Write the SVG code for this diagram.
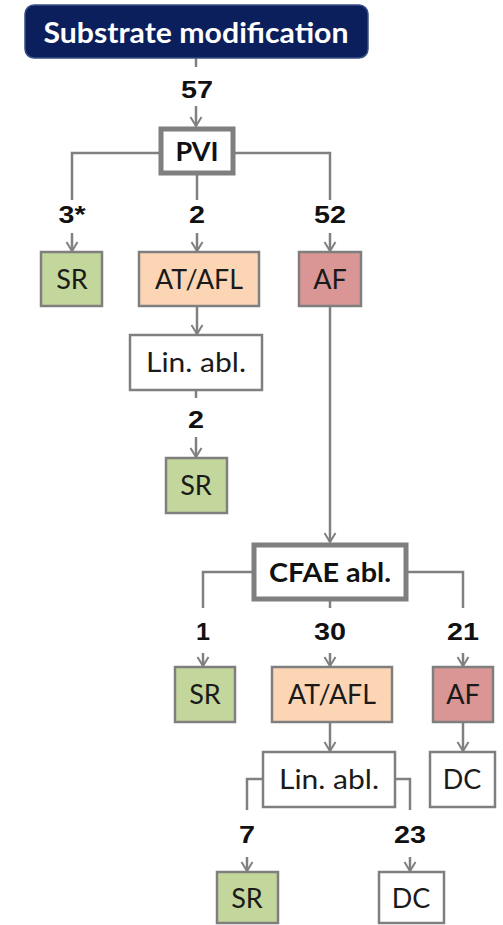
<svg xmlns="http://www.w3.org/2000/svg" width="503" height="925" viewBox="0 0 503 925">
<style>
.box{stroke:#7f7f7f;stroke-width:2.5}
.thick{fill:#fff;stroke:#7f7f7f;stroke-width:5}
.sr{fill:#c3d69b}
.at{fill:#fcd5b4}
.af{fill:#d99694}
.wh{fill:#fff}
.t{font-family:Lato,"Open Sans",sans-serif;font-size:27px;fill:#1a1a1a;text-anchor:middle}
.tb{font-family:Lato,"Open Sans",sans-serif;font-size:27px;font-weight:bold;fill:#111;text-anchor:middle}
.n{font-family:"Liberation Sans",Arial,sans-serif;font-size:23px;font-weight:bold;fill:#111;text-anchor:middle}
.c{fill:none;stroke:#808080;stroke-width:2.5}
</style>
<defs>
<marker id="ah" viewBox="0 0 14 14" refX="12" refY="7" markerWidth="14" markerHeight="14" markerUnits="userSpaceOnUse" orient="auto">
<path d="M3,1.5 L12,7 L3,12.5" fill="none" stroke="#808080" stroke-width="2"/>
</marker>
</defs>
<g id="connectors">
<line class="c" x1="196" y1="58" x2="196" y2="67"/>
<line class="c" x1="196" y1="106" x2="196" y2="126" marker-end="url(#ah)"/>
<path class="c" d="M160,153 H72 V200"/>
<path class="c" d="M234,153 H330 V200"/>
<line class="c" x1="197" y1="174" x2="197" y2="200"/>
<line class="c" x1="72" y1="233" x2="72" y2="251" marker-end="url(#ah)"/>
<line class="c" x1="197" y1="233" x2="197" y2="251" marker-end="url(#ah)"/>
<line class="c" x1="330" y1="233" x2="330" y2="251" marker-end="url(#ah)"/>
<line class="c" x1="197" y1="306" x2="197" y2="334" marker-end="url(#ah)"/>
<line class="c" x1="196" y1="390" x2="196" y2="398"/>
<line class="c" x1="196" y1="437" x2="196" y2="457" marker-end="url(#ah)"/>
<line class="c" x1="330" y1="306" x2="330" y2="542" marker-end="url(#ah)"/>
<path class="c" d="M253,572 H203 V608"/>
<path class="c" d="M407,572 H463 V608"/>
<line class="c" x1="330" y1="600" x2="330" y2="608"/>
<line class="c" x1="203" y1="653" x2="203" y2="666" marker-end="url(#ah)"/>
<line class="c" x1="330" y1="653" x2="330" y2="666" marker-end="url(#ah)"/>
<line class="c" x1="463" y1="653" x2="463" y2="666" marker-end="url(#ah)"/>
<line class="c" x1="330" y1="722" x2="330" y2="751" marker-end="url(#ah)"/>
<line class="c" x1="463" y1="722" x2="463" y2="751" marker-end="url(#ah)"/>
<path class="c" d="M263,779 H247 V810"/>
<path class="c" d="M395,779 H410 V810"/>
<line class="c" x1="247" y1="857" x2="247" y2="871" marker-end="url(#ah)"/>
<line class="c" x1="410" y1="857" x2="410" y2="871" marker-end="url(#ah)"/>
</g>
<g id="labels">
<text class="n" x="197" y="98" textLength="32" lengthAdjust="spacingAndGlyphs">57</text>
<text class="n" x="72" y="223" textLength="27" lengthAdjust="spacingAndGlyphs">3*</text>
<text class="n" x="197" y="223" textLength="16" lengthAdjust="spacingAndGlyphs">2</text>
<text class="n" x="330" y="223" textLength="32" lengthAdjust="spacingAndGlyphs">52</text>
<text class="n" x="196" y="428" textLength="16" lengthAdjust="spacingAndGlyphs">2</text>
<text class="n" x="203" y="640" textLength="14" lengthAdjust="spacingAndGlyphs">1</text>
<text class="n" x="330" y="640" textLength="32" lengthAdjust="spacingAndGlyphs">30</text>
<text class="n" x="463" y="640" textLength="32" lengthAdjust="spacingAndGlyphs">21</text>
<text class="n" x="247" y="843" textLength="16" lengthAdjust="spacingAndGlyphs">7</text>
<text class="n" x="410" y="843" textLength="32" lengthAdjust="spacingAndGlyphs">23</text>
</g>
<g id="substrate">
<rect x="25" y="5" width="343" height="53" rx="9" fill="#0b1f5c" stroke="#3a4f86" stroke-width="1.5"/>
<text x="196" y="43" font-family="Lato,'Open Sans',sans-serif" font-size="28" font-weight="bold" fill="#fff" text-anchor="middle" textLength="305" lengthAdjust="spacingAndGlyphs">Substrate modification</text>
</g>
<g id="pvi"><rect class="thick" x="161" y="129" width="72" height="44"/><text class="tb" x="197" y="161">PVI</text></g>
<g id="sr1"><rect class="box sr" x="41" y="252" width="61" height="54"/><text class="t" x="72" y="289">SR</text></g>
<g id="atafl1"><rect class="box at" x="139" y="252" width="120" height="54"/><text class="t" x="199" y="289" textLength="88" lengthAdjust="spacingAndGlyphs">AT/AFL</text></g>
<g id="af1"><rect class="box af" x="299" y="252" width="62" height="54"/><text class="t" x="330" y="289">AF</text></g>
<g id="linabl1"><rect class="box wh" x="130" y="335" width="132" height="55"/><text class="t" x="196" y="372" textLength="100" lengthAdjust="spacingAndGlyphs">Lin. abl.</text></g>
<g id="sr2"><rect class="box sr" x="166" y="458" width="61" height="55"/><text class="t" x="196" y="495">SR</text></g>
<g id="cfae"><rect class="thick" x="254" y="545" width="152" height="54"/><text class="tb" x="330" y="582" textLength="122" lengthAdjust="spacingAndGlyphs">CFAE abl.</text></g>
<g id="sr3"><rect class="box sr" x="175" y="667" width="60" height="55"/><text class="t" x="205" y="704">SR</text></g>
<g id="atafl2"><rect class="box at" x="272" y="667" width="120" height="55"/><text class="t" x="332" y="704" textLength="88" lengthAdjust="spacingAndGlyphs">AT/AFL</text></g>
<g id="af2"><rect class="box af" x="433" y="667" width="60" height="55"/><text class="t" x="463" y="704">AF</text></g>
<g id="linabl2"><rect class="box wh" x="263" y="752" width="132" height="55"/><text class="t" x="329" y="789" textLength="100" lengthAdjust="spacingAndGlyphs">Lin. abl.</text></g>
<g id="dc1"><rect class="box wh" x="430" y="752" width="65" height="55"/><text class="t" x="462" y="789">DC</text></g>
<g id="sr4"><rect class="box sr" x="217" y="872" width="61" height="51"/><text class="t" x="247" y="908">SR</text></g>
<g id="dc2"><rect class="box wh" x="379" y="872" width="65" height="51"/><text class="t" x="411" y="908">DC</text></g>
</svg>
